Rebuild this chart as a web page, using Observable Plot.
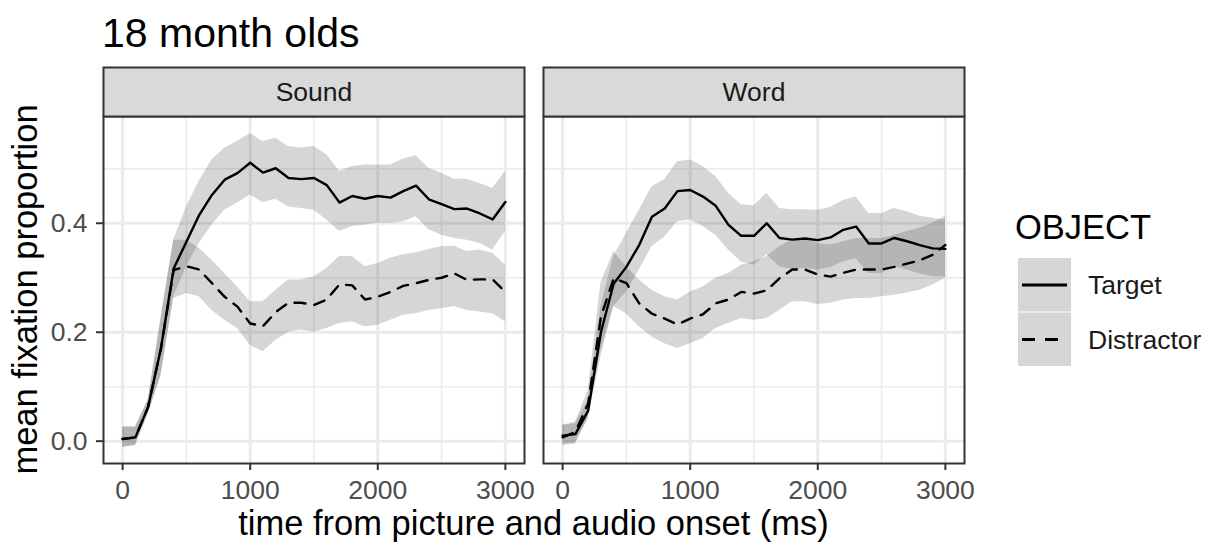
<!DOCTYPE html>
<html>
<head>
<meta charset="utf-8">
<script src="https://cdn.jsdelivr.net/npm/d3@7"></script>
<script src="https://cdn.jsdelivr.net/npm/@observablehq/plot@0.6"></script>
<style>
  html, body { margin: 0; padding: 0; background: #fff; }
  #page { position: relative; width: 1227px; height: 542px; overflow: hidden; font-family: "Liberation Sans", Arial, sans-serif; }
  #page svg { position: absolute; left: 0; }
</style>
</head>
<body>
<div id="page"></div>
<script>
// ---- data ----
const titleText = "18 month olds";
const xTitle = "time from picture and audio onset (ms)";
const yTitle = "mean fixation proportion";
const legendTitle = "OBJECT";
const conditions = ["Sound", "Word"];
const objects = ["Target", "Distractor"];
const times = [0,100,200,300,400,500,600,700,800,900,1000,1100,1200,1300,1400,1500,1600,1700,1800,1900,2000,2100,2200,2300,2400,2500,2600,2700,2800,2900,3000];
const xMajor = [0, 1000, 2000, 3000];
const xMinor = [500, 1500, 2500];
const yMajor = [0, 0.2, 0.4];
const yMinor = [0.1, 0.3, 0.5];

const soundTargetMean = [0.004,0.007,0.063,0.17,0.317,0.366,0.415,0.452,0.48,0.492,0.511,0.493,0.501,0.483,0.481,0.483,0.47,0.438,0.45,0.445,0.45,0.447,0.459,0.469,0.444,0.435,0.426,0.427,0.418,0.407,0.439];
const soundTargetLo   = [-0.011,-0.008,0.05,0.12,0.265,0.32,0.363,0.397,0.424,0.437,0.452,0.438,0.444,0.43,0.427,0.424,0.406,0.385,0.394,0.397,0.4,0.4,0.403,0.412,0.388,0.378,0.372,0.369,0.363,0.351,0.385];
const soundTargetHi   = [0.026,0.026,0.075,0.22,0.369,0.43,0.477,0.516,0.538,0.55,0.565,0.55,0.556,0.541,0.538,0.541,0.526,0.495,0.504,0.507,0.507,0.507,0.518,0.524,0.501,0.492,0.481,0.481,0.473,0.464,0.495];

const soundDistMean = [0.004,0.007,0.063,0.17,0.314,0.321,0.315,0.29,0.265,0.247,0.216,0.211,0.237,0.254,0.254,0.25,0.26,0.288,0.286,0.26,0.265,0.274,0.285,0.29,0.296,0.3,0.308,0.296,0.297,0.297,0.274];
const soundDistLo   = [-0.011,-0.008,0.05,0.12,0.262,0.271,0.265,0.24,0.222,0.207,0.176,0.164,0.185,0.2,0.204,0.2,0.207,0.216,0.219,0.21,0.213,0.222,0.231,0.234,0.24,0.243,0.247,0.24,0.237,0.234,0.219];
const soundDistHi   = [0.026,0.026,0.075,0.228,0.369,0.369,0.354,0.332,0.308,0.283,0.256,0.256,0.277,0.296,0.296,0.302,0.317,0.339,0.339,0.32,0.326,0.336,0.342,0.346,0.352,0.357,0.358,0.348,0.351,0.345,0.323];

const wordTargetMean = [0.01,0.013,0.056,0.2,0.289,0.32,0.36,0.412,0.427,0.459,0.461,0.449,0.432,0.397,0.377,0.377,0.4,0.373,0.37,0.372,0.369,0.374,0.388,0.394,0.363,0.363,0.373,0.367,0.36,0.354,0.353];
const wordTargetLo   = [-0.005,-0.003,0.04,0.155,0.247,0.274,0.314,0.357,0.375,0.403,0.406,0.394,0.378,0.351,0.329,0.323,0.342,0.32,0.315,0.317,0.314,0.319,0.329,0.335,0.308,0.308,0.32,0.314,0.307,0.302,0.302];
const wordTargetHi   = [0.029,0.032,0.075,0.247,0.339,0.381,0.424,0.467,0.48,0.513,0.516,0.504,0.486,0.455,0.434,0.432,0.455,0.427,0.425,0.425,0.424,0.429,0.442,0.448,0.418,0.418,0.427,0.421,0.413,0.409,0.406];

const wordDistMean = [0.007,0.017,0.069,0.228,0.299,0.29,0.253,0.234,0.225,0.214,0.225,0.233,0.253,0.26,0.274,0.271,0.277,0.299,0.315,0.315,0.306,0.302,0.309,0.315,0.315,0.315,0.32,0.326,0.332,0.342,0.36];
const wordDistLo   = [-0.008,-0.005,0.044,0.167,0.247,0.234,0.21,0.191,0.179,0.17,0.179,0.188,0.207,0.216,0.225,0.222,0.225,0.24,0.256,0.256,0.251,0.253,0.259,0.262,0.262,0.265,0.268,0.272,0.277,0.286,0.299];
const wordDistHi   = [0.029,0.035,0.093,0.29,0.348,0.32,0.296,0.277,0.265,0.259,0.274,0.283,0.299,0.308,0.323,0.329,0.339,0.357,0.369,0.372,0.363,0.36,0.366,0.372,0.372,0.372,0.378,0.385,0.391,0.4,0.413];

// ---- build table ----
const series = [
  {cond: "Sound", object: "Target", mean: soundTargetMean, lo: soundTargetLo, hi: soundTargetHi},
  {cond: "Sound", object: "Distractor", mean: soundDistMean, lo: soundDistLo, hi: soundDistHi},
  {cond: "Word", object: "Target", mean: wordTargetMean, lo: wordTargetLo, hi: wordTargetHi},
  {cond: "Word", object: "Distractor", mean: wordDistMean, lo: wordDistLo, hi: wordDistHi}
];
const rows = [];
for (const s of series) {
  times.forEach((t, i) => rows.push({cond: s.cond, object: s.object, t, mean: s.mean[i], lo: s.lo[i], hi: s.hi[i]}));
}

// ---- styles ----
const FONT = "Liberation Sans, Arial, sans-serif";
const RIBBON = "#333333", RIBBON_OP = 0.2;
const DASH = "11,9";
const innerH = 347;

const chart = Plot.plot({
  width: 980,
  height: 482,
  marginTop: 56,
  marginBottom: 79,
  marginLeft: 103,
  marginRight: 16,
  style: {fontFamily: FONT, background: "transparent", overflow: "visible"},
  fx: {domain: conditions, paddingInner: 19 / 440, paddingOuter: 0, round: false, axis: null, label: null},
  x: {domain: [-150, 3150], label: null},
  y: {domain: [-0.041, 0.596], label: null},
  marks: [
    Plot.frame({fill: "white"}),
    Plot.gridX({ticks: xMinor, stroke: "#ebebeb", strokeOpacity: 1, strokeWidth: 1.6}),
    Plot.gridY({ticks: yMinor, stroke: "#ebebeb", strokeOpacity: 1, strokeWidth: 1.6}),
    Plot.gridX({ticks: xMajor, stroke: "#ebebeb", strokeOpacity: 1, strokeWidth: 3}),
    Plot.gridY({ticks: yMajor, stroke: "#ebebeb", strokeOpacity: 1, strokeWidth: 3}),
    Plot.areaY(rows, {fx: "cond", x: "t", y1: "lo", y2: "hi", z: "object", fill: RIBBON, fillOpacity: RIBBON_OP}),
    Plot.lineY(rows.filter(d => d.object === "Target"), {fx: "cond", x: "t", y: "mean", stroke: "black", strokeWidth: 2.4}),
    Plot.lineY(rows.filter(d => d.object === "Distractor"), {fx: "cond", x: "t", y: "mean", stroke: "black", strokeWidth: 2.4, strokeDasharray: DASH}),
    Plot.frame({stroke: "#333333", strokeWidth: 2}),
    Plot.frame({fill: "#d9d9d9", stroke: "#333333", strokeWidth: 2, insetTop: -49, insetBottom: innerH}),
    Plot.text(conditions, {fx: d => d, text: d => d, frameAnchor: "top", dy: -24, lineAnchor: "middle", fontSize: 26.5, fill: "#1a1a1a"}),
    Plot.axisX({ticks: xMajor, tickFormat: "d", tickSize: 7, tickPadding: 10, fontSize: 26.5, stroke: "#333333", fill: "#4d4d4d", strokeWidth: 2, label: null}),
    Plot.axisY({ticks: yMajor, tickFormat: ".1f", tickSize: 7, tickPadding: 9, fontSize: 26.5, stroke: "#333333", fill: "#4d4d4d", strokeWidth: 2, label: null})
  ]
});
chart.style.top = "60px";
const page = document.getElementById("page");
page.appendChild(chart);

// ---- overlay: title, axis titles, legend ----
const ov = d3.select(page).append("svg")
  .attr("width", 1227).attr("height", 542)
  .style("top", "0px").style("pointer-events", "none")
  .attr("font-family", FONT);

ov.append("text").attr("x", 102).attr("y", 46.7).attr("font-size", 41).attr("fill", "black").text(titleText);
ov.append("text").attr("x", 533.5).attr("y", 535).attr("text-anchor", "middle").attr("font-size", 34.5).attr("fill", "black").text(xTitle);
ov.append("text").attr("transform", "translate(37,289.5) rotate(-90)").attr("text-anchor", "middle").attr("font-size", 34.5).attr("fill", "black").text(yTitle);

const lg = ov.append("g");
lg.append("text").attr("x", 1015).attr("y", 239).attr("font-size", 34.5).attr("fill", "black").text(legendTitle);
objects.forEach((o, i) => {
  const y0 = 258 + i * 54.5;
  lg.append("rect").attr("x", 1018).attr("y", y0).attr("width", 53).attr("height", 53.5).attr("fill", RIBBON).attr("fill-opacity", RIBBON_OP);
  lg.append("line").attr("x1", 1022).attr("x2", 1067).attr("y1", y0 + 27).attr("y2", y0 + 27)
    .attr("stroke", "black").attr("stroke-width", 3).attr("stroke-dasharray", o === "Distractor" ? "13,10" : null);
  lg.append("text").attr("x", 1088).attr("y", y0 + 27).attr("dy", "0.35em").attr("font-size", 26.5).attr("fill", "#1a1a1a").text(o);
});
</script>
</body>
</html>
